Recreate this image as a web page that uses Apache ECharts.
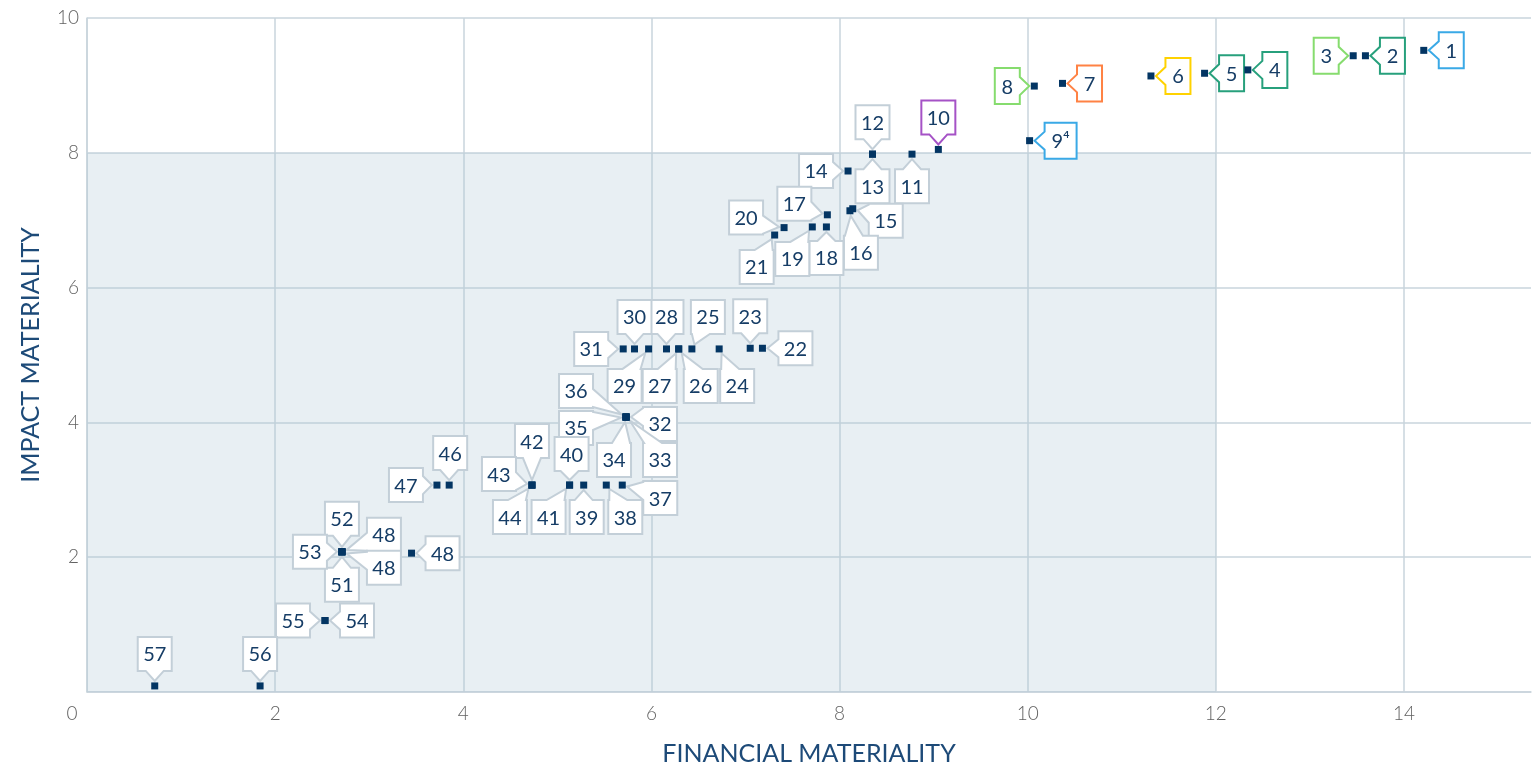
<!DOCTYPE html>
<html>
<head>
<meta charset="utf-8">
<script src="https://cdn.jsdelivr.net/npm/echarts@6/dist/echarts.min.js"></script>
<style>
    html, body { margin: 0; padding: 0; background: #fff; }
    #materiality { width: 1533px; height: 771px; }
</style>
</head>
<body>
<div id="materiality"></div>
<script>
// topic numbers shown in the callouts
var topics = ['1', '2', '3', '4', '5', '6', '7', '8', '9⁴', '10',
    '11', '12', '13', '14', '15', '16', '17', '18', '19', '20',
    '21', '22', '23', '24', '25', '26', '27', '28', '29', '30',
    '31', '32', '33', '34', '35', '36', '37', '38', '39', '40',
    '41', '42', '43', '44', '46', '47', '48', '48', '48', '51',
    '52', '53', '54', '55', '56', '57']

// financial materiality (x)
var financial = [14.21, 13.59, 13.46, 12.34, 11.88, 11.31, 10.37, 10.07, 10.02, 9.05,
    8.77, 8.35, 8.35, 8.09, 8.14, 8.11, 7.87, 7.86, 7.71, 7.41,
    7.31, 7.18, 7.05, 6.72, 6.43, 6.29, 6.29, 6.16, 5.97, 5.82,
    5.70, 5.73, 5.73, 5.73, 5.73, 5.73, 5.69, 5.52, 5.28, 5.13,
    5.13, 4.73, 4.73, 4.73, 3.85, 3.72, 3.45, 2.71, 2.71, 2.71,
    2.71, 2.71, 2.53, 2.53, 1.84, 0.72]

// impact materiality (y)
var impact = [9.52, 9.44, 9.44, 9.23, 9.18, 9.14, 9.03, 8.99, 8.18, 8.05,
    7.98, 7.98, 7.98, 7.73, 7.17, 7.14, 7.08, 6.90, 6.90, 6.89,
    6.78, 5.10, 5.10, 5.09, 5.09, 5.09, 5.09, 5.09, 5.09, 5.09,
    5.09, 4.08, 4.08, 4.08, 4.08, 4.08, 3.07, 3.07, 3.07, 3.07,
    3.07, 3.07, 3.07, 3.07, 3.07, 3.07, 2.06, 2.08, 2.08, 2.08,
    2.08, 2.08, 1.06, 1.06, 0.09, 0.09]

var xTicks = [0, 2, 4, 6, 8, 10, 12, 14]
var yTicks = [0, 2, 4, 6, 8, 10]

// callout layout: box centre offset from its point (px) and the side the pointer leaves from
var calloutPos = [
    [27.5, 0, 'l'], [27, 0, 'l'], [-27, 0, 'r'], [27, 0, 'l'], [27, 0, 'l'],
    [27, 0, 'l'], [27, 0, 'l'], [-27, 0, 'r'], [31, 0, 'l'], [0, -32, 'b'],
    [0, 32, 't'], [0, -32, 'b'], [0, 32, 't'], [-32, 0, 'r'], [33, 12, 'l'],
    [11, 42, 't'], [-33, -11, 'r'], [0, 31, 't'], [-20, 32, 't'], [-38, -10, 'r'],
    [-18, 32, 't'], [33, 0, 'l'], [0, -32, 'b'], [18, 37, 't'], [16, -32, 'b'],
    [22, 37, 't'], [-19, 37, 't'], [0, -32, 'b'], [-24, 37, 't'], [0, -32, 'b'],
    [-32, 0, 'r'], [34, 7, 'l'], [34, 43, 't'], [-12, 43, 't'], [-50, 11, 'r'],
    [-50, -26, 'r'], [38, 13, 'l'], [19, 32, 't'], [3, 32, 't'], [2, -31, 'b'],
    [-21, 32, 't'], [0, -44, 'b'], [-33, -11, 'r'], [-22, 32, 't'], [1, -32, 'b'],
    [-31, 0, 'r'], [31, 0, 'l'], [42, -17, 'l'], [42, 16, 'l'], [0, 33, 't'],
    [0, -33, 'b'], [-32, 0, 'r'], [32, 0, 'l'], [-32, 0, 'r'], [0, -32, 'b'],
    [0, -32, 'b']
]

// border colours of the top ten callouts, the rest are grey
var topColors = ['#3aa9e6', '#27a07c', '#86dc6e', '#27a07c', '#27a07c',
    '#ffd200', '#ff8244', '#86dc6e', '#3aa9e6', '#a552c6']
var greyBorder = '#c3cfd8'
var navy = '#163d66'
var gridColor = '#c9d4dc'
var fontName = 'Lato, "Noto Sans", sans-serif'

function clamp(v, a, b) {
    return Math.max(a, Math.min(b, v))
}

function renderCallout(params, api) {
    var i = params.dataIndex
    var p = api.coord([api.value(0), api.value(1)])
    var pos = calloutPos[i]
    var txt = topics[i]
    var single = txt.length === 1 || txt === '9⁴'
    var w = txt.length === 1 ? 25 : (txt === '9⁴' ? 32 : 34)
    var h = single ? 36 : 34
    var cx = p[0] + pos[0]
    var cy = p[1] + pos[1]
    var l = cx - w / 2, r = cx + w / 2, t = cy - h / 2, b = cy + h / 2
    var side = pos[2]
    var hb = 9
    var bx, by
    if (side === 'l' || side === 'r') {
        bx = side === 'l' ? l : r
        by = clamp(p[1], t + hb + 1, b - hb - 1)
    } else {
        by = side === 't' ? t : b
        bx = clamp(p[0], l + hb + 1, r - hb - 1)
    }
    var dx = p[0] - bx, dy = p[1] - by
    var d = Math.sqrt(dx * dx + dy * dy) || 1
    var tip = [p[0] - dx / d * 5, p[1] - dy / d * 5]

    var pts = [[l, t]]
    if (side === 't') pts.push([bx - hb, t], tip, [bx + hb, t])
    pts.push([r, t])
    if (side === 'r') pts.push([r, by - hb], tip, [r, by + hb])
    pts.push([r, b])
    if (side === 'b') pts.push([bx + hb, b], tip, [bx - hb, b])
    pts.push([l, b])
    if (side === 'l') pts.push([l, by + hb], tip, [l, by - hb])

    return {
        type: 'group',
        children: [{
            type: 'polygon',
            shape: {points: pts},
            style: {fill: '#fff', stroke: topColors[i] || greyBorder, lineWidth: 2, lineJoin: 'miter'}
        }, {
            type: 'text',
            style: {
                text: txt,
                x: cx,
                y: cy + 1,
                align: 'center',
                verticalAlign: 'middle',
                fill: navy,
                fontSize: 20,
                fontFamily: fontName
            }
        }]
    }
}

var myChart = echarts.init(document.getElementById('materiality'))

var points = financial.map(function (x, i) { return [x, impact[i]] })

myChart.setOption({
    animation: false,
    grid: {left: 87, right: 2, top: 18, bottom: 76},
    xAxis: {
        type: 'value',
        min: xTicks[0],
        max: 15.35,
        interval: xTicks[1] - xTicks[0],
        name: 'FINANCIAL MATERIALITY',
        nameLocation: 'middle',
        nameGap: 49,
        nameTextStyle: {color: '#1d4a78', fontSize: 25, fontFamily: fontName},
        axisLine: {show: true, lineStyle: {color: gridColor, width: 1.5}},
        axisTick: {show: false},
        axisLabel: {
            color: '#626262', fontSize: 19, margin: 12, fontFamily: fontName, fontWeight: 300,
            showMaxLabel: false,
            formatter: function (v) {
                if (v === 0) return '{z|0}'
                return xTicks.indexOf(v) >= 0 ? String(v) : ''
            },
            rich: {z: {padding: [0, 30, 0, 0], color: '#626262', fontSize: 19, fontFamily: fontName, fontWeight: 300}}
        },
        splitLine: {show: true, showMaxLine: false, lineStyle: {color: gridColor, width: 1.5}}
    },
    yAxis: {
        type: 'value',
        min: yTicks[0],
        max: yTicks[yTicks.length - 1],
        interval: yTicks[1] - yTicks[0],
        name: 'IMPACT MATERIALITY',
        nameLocation: 'middle',
        nameGap: 44,
        nameTextStyle: {color: '#1d4a78', fontSize: 25, fontFamily: fontName},
        axisLine: {show: true, lineStyle: {color: gridColor, width: 1.5}},
        axisTick: {show: false},
        axisLabel: {color: '#626262', fontSize: 19, margin: 8, fontFamily: fontName, fontWeight: 300, showMinLabel: false},
        splitLine: {show: true, lineStyle: {color: gridColor, width: 1.5}}
    },
    series: [
        {
            // shaded zone
            type: 'scatter',
            data: [],
            silent: true,
            markArea: {
                silent: true,
                itemStyle: {color: 'rgba(170, 195, 210, 0.27)'},
                data: [[{coord: [0, 0]}, {coord: [12, 8]}]]
            }
        },
        {
            type: 'custom',
            renderItem: renderCallout,
            data: points,
            z: 3,
            silent: true
        },
        {
            type: 'scatter',
            symbol: 'rect',
            symbolSize: 7,
            itemStyle: {color: '#033563', opacity: 1},
            data: points,
            z: 5
        }
    ]
})
</script>
</body>
</html>
